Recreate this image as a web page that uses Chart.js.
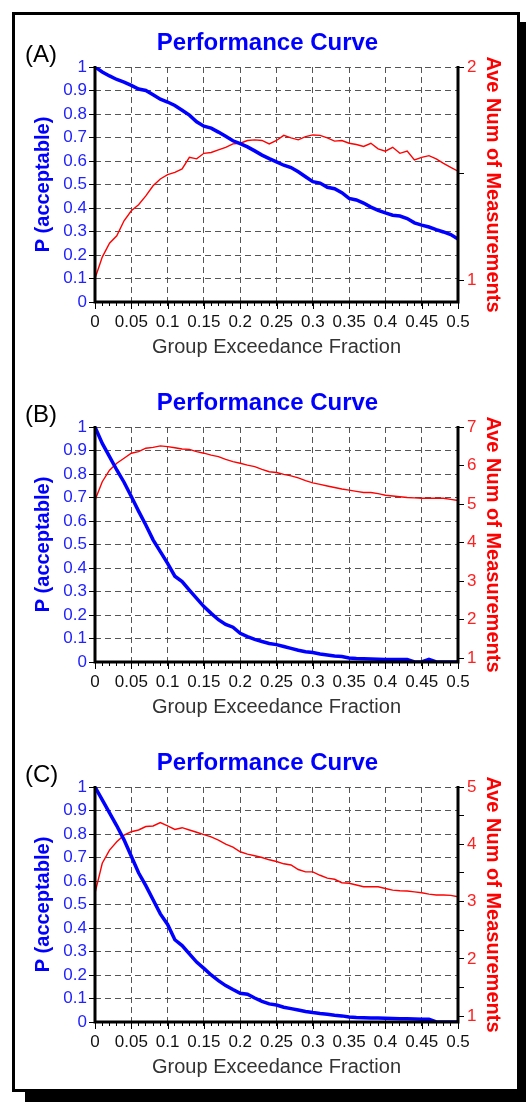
<!DOCTYPE html>
<html>
<head>
<meta charset="utf-8">
<script src="https://cdn.jsdelivr.net/npm/chart.js@4.4.1/dist/chart.umd.min.js"></script>
<style>
html,body{margin:0;padding:0;background:#fff;width:526px;height:1102px;overflow:hidden;}
#frame{position:absolute;left:12px;top:12px;width:508px;height:1080px;box-sizing:border-box;border:3px solid #000;box-shadow:13px 10px 0 #000;background:#fff;}
.panel{position:absolute;left:14px;width:507px;height:350px;}
.tag{position:absolute;left:25px;font:24px 'Liberation Sans',Arial,sans-serif;color:#000;line-height:1;}
</style>
</head>
<body>
<div id="frame"></div>
<div class="panel" style="top:14px"><canvas id="cA" width="507" height="350"></canvas></div>
<div class="panel" style="top:374px"><canvas id="cB" width="507" height="350"></canvas></div>
<div class="panel" style="top:734px"><canvas id="cC" width="507" height="350"></canvas></div>
<div class="tag" style="top:42px">(A)</div>
<div class="tag" style="top:402px">(B)</div>
<div class="tag" style="top:762px">(C)</div>
<script>
// ---- data ----
const groupFraction = [0,0.01,0.02,0.03,0.04,0.05,0.06,0.07,0.08,0.09,0.10,0.11,0.12,0.13,0.14,0.15,0.16,0.17,0.18,0.19,0.20,0.21,0.22,0.23,0.24,0.25,0.26,0.27,0.28,0.29,0.30,0.31,0.32,0.33,0.34,0.35,0.36,0.37,0.38,0.39,0.40,0.41,0.42,0.43,0.44,0.45,0.46,0.47,0.48,0.49,0.50];

const probA = [1.0,0.979,0.962,0.947,0.936,0.922,0.906,0.900,0.882,0.863,0.851,0.836,0.816,0.795,0.767,0.748,0.740,0.723,0.705,0.686,0.674,0.660,0.643,0.625,0.610,0.596,0.582,0.572,0.554,0.533,0.512,0.506,0.488,0.482,0.465,0.441,0.434,0.421,0.404,0.390,0.379,0.369,0.366,0.355,0.337,0.327,0.319,0.308,0.298,0.287,0.268];
const measA = [1.01,1.11,1.175,1.21,1.28,1.327,1.355,1.397,1.444,1.476,1.496,1.507,1.523,1.577,1.57,1.596,1.60,1.612,1.624,1.64,1.643,1.656,1.659,1.656,1.64,1.656,1.68,1.668,1.659,1.674,1.682,1.68,1.668,1.653,1.656,1.643,1.637,1.628,1.643,1.617,1.606,1.624,1.596,1.606,1.565,1.577,1.585,1.57,1.549,1.53,1.512];

const probB = [1.0,0.93,0.874,0.817,0.765,0.704,0.642,0.583,0.52,0.47,0.42,0.365,0.342,0.306,0.271,0.236,0.207,0.18,0.16,0.148,0.122,0.108,0.096,0.087,0.079,0.074,0.066,0.058,0.05,0.044,0.04,0.034,0.03,0.026,0.023,0.017,0.015,0.014,0.013,0.012,0.011,0.011,0.011,0.011,0,0,0.011,0,0,0,0];
const measB = [5.1,5.58,5.88,6.06,6.19,6.32,6.36,6.45,6.47,6.51,6.49,6.46,6.43,6.42,6.36,6.32,6.27,6.23,6.16,6.10,6.06,6.01,5.97,5.90,5.84,5.82,5.77,5.73,5.68,5.61,5.55,5.51,5.47,5.43,5.39,5.36,5.33,5.30,5.30,5.27,5.23,5.21,5.19,5.17,5.16,5.15,5.15,5.15,5.15,5.12,5.09];

const probC = [1.0,0.945,0.89,0.835,0.775,0.705,0.635,0.58,0.52,0.46,0.415,0.35,0.325,0.29,0.255,0.228,0.2,0.176,0.155,0.138,0.122,0.118,0.102,0.088,0.077,0.072,0.063,0.057,0.051,0.045,0.04,0.036,0.033,0.029,0.026,0.021,0.019,0.018,0.017,0.017,0.016,0.015,0.014,0.014,0.013,0.012,0.012,0,0,0,0];
const measC = [3.15,3.67,3.90,4.045,4.16,4.22,4.25,4.31,4.32,4.38,4.32,4.26,4.29,4.25,4.21,4.17,4.13,4.075,4.005,3.95,3.87,3.83,3.80,3.77,3.73,3.70,3.66,3.64,3.56,3.52,3.52,3.46,3.41,3.39,3.33,3.32,3.29,3.26,3.26,3.26,3.23,3.20,3.19,3.185,3.17,3.155,3.13,3.115,3.115,3.11,3.085];

const xTickLabels = ['0','0.05','0.1','0.15','0.2','0.25','0.3','0.35','0.4','0.45','0.5'];
const pTickLabels = ['0','0.1','0.2','0.3','0.4','0.5','0.6','0.7','0.8','0.9','1'];
const measMin = 0.9;
const measMaxA = 2, measMaxB = 7, measMaxC = 5;

// ---- styling ----
Chart.defaults.font.family = "'Liberation Sans', Arial, sans-serif";
const GRID = '#555';

const framePlugin = {
  id: 'axisFrame',
  afterDatasetsDraw(chart) {
    const {ctx, chartArea: a} = chart;
    const xs = chart.scales.x;
    ctx.save();
    ctx.setLineDash([]);
    ctx.strokeStyle = '#000';
    ctx.lineWidth = 1;
    ctx.beginPath();
    xTickLabels.forEach(l => {
      const px = Math.round(xs.getPixelForValue(Number(l))) + 0.5;
      ctx.moveTo(px, a.bottom);
      ctx.lineTo(px, a.bottom + 7);
    });
    ctx.stroke();
    ctx.lineWidth = 3;
    ctx.beginPath();
    ctx.moveTo(a.left, a.top - 1);
    ctx.lineTo(a.left, a.bottom);
    ctx.lineTo(a.right, a.bottom);
    ctx.lineTo(a.right, a.top - 1);
    ctx.stroke();
    ctx.restore();
  }
};

function pts(ys) { return groupFraction.map((x, i) => ({x: x, y: ys[i]})); }

function makePanel(id, prob, meas, measMax) {
  return new Chart(document.getElementById(id), {
    type: 'line',
    data: {
      datasets: [
        {data: pts(prob), yAxisID: 'y', borderColor: '#0000ff', borderWidth: 3.5, pointRadius: 0, tension: 0, fill: false},
        {data: pts(meas), yAxisID: 'y2', borderColor: '#ff0000', borderWidth: 1.4, pointRadius: 0, tension: 0, fill: false}
      ]
    },
    plugins: [framePlugin],
    options: {
      responsive: false,
      animation: false,
      devicePixelRatio: 1,
      layout: {padding: 0},
      plugins: {
        legend: {display: false},
        tooltip: {enabled: false},
        title: {display: true, text: 'Performance Curve', color: '#0000ff',
                font: {size: 24, weight: 'bold'}, padding: {top: 14.6, bottom: 9.6}}
      },
      scales: {
        x: {
          type: 'linear', position: 'bottom', min: 0, max: 0.5,
          afterFit: s => { s.height = 62; },
          ticks: {
            stepSize: 0.01, autoSkip: false, maxRotation: 0, minRotation: 0, padding: 6,
            color: '#111', font: {size: 17},
            callback: v => { const k = Math.round(v * 100); return k % 5 === 0 ? xTickLabels[k / 5] : ''; }
          },
          grid: {
            color: c => (c.tick && Math.round(c.tick.value * 100) % 5 === 0) ? GRID : 'rgba(0,0,0,0)',
            tickColor: '#000', tickLength: 4, lineWidth: 1, borderDash: [6, 4]
          },
          border: {display: false, dash: [6, 4]},
          title: {display: true, text: 'Group Exceedance Fraction', color: '#333',
                  font: {size: 20}, padding: {top: 0, bottom: 5}}
        },
        y: {
          type: 'linear', position: 'left', min: 0, max: 1,
          afterFit: s => { s.width = 81; },
          ticks: {stepSize: 0.1, color: '#2222ff', font: {size: 17}, padding: 2,
                  callback: v => pTickLabels[Math.round(v * 10)]},
          grid: {color: GRID, tickColor: '#000', tickLength: 6, lineWidth: 1, borderDash: [6, 4]},
          border: {display: false, dash: [6, 4]},
          title: {display: true, text: 'P (acceptable)', color: '#0000ff',
                  font: {size: 20, weight: 'bold'}, padding: {top: 17, bottom: 0}}
        },
        y2: {
          type: 'linear', position: 'right', min: measMin, max: measMax,
          afterFit: s => { s.width = 63; },
          ticks: {stepSize: 0.5, includeBounds: false, color: '#ff2020', font: {size: 17}, padding: 3,
                  callback: v => Number.isInteger(v) ? String(v) : ''},
          grid: {drawOnChartArea: false, color: '#000', tickColor: '#000', tickLength: 6},
          border: {display: false},
          title: {display: true, text: 'Ave Num of Measurements', color: '#ff0000',
                  font: {size: 20, weight: 'bold'}, padding: {top: 16, bottom: 0}}
        }
      }
    }
  });
}

makePanel('cA', probA, measA, measMaxA);
makePanel('cB', probB, measB, measMaxB);
makePanel('cC', probC, measC, measMaxC);
</script>
</body>
</html>
